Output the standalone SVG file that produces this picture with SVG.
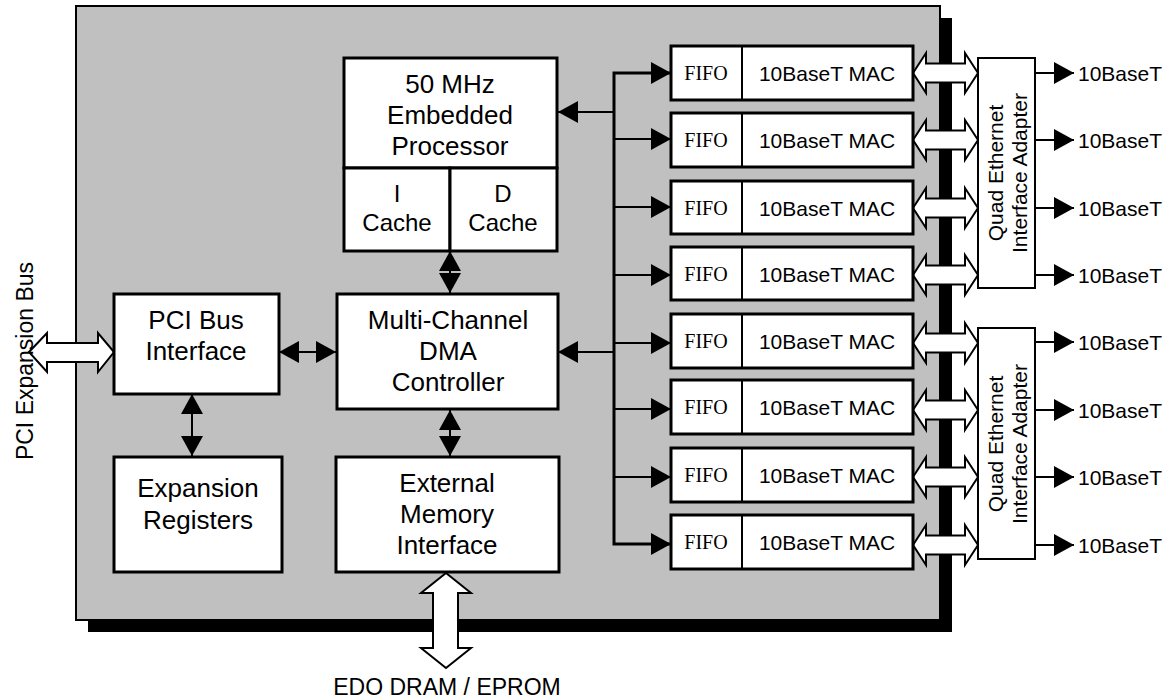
<svg xmlns="http://www.w3.org/2000/svg" width="1172" height="700" viewBox="0 0 1172 700">
<style>
.box{fill:#fff;stroke:#000;stroke-width:3}
.t{font-family:"Liberation Sans",Arial,sans-serif;font-size:26px;fill:#000;text-anchor:middle}
.s{font-family:"Liberation Sans",Arial,sans-serif;font-size:21px;fill:#000;text-anchor:middle}
.sl{font-family:"Liberation Sans",Arial,sans-serif;font-size:21px;fill:#000}
.c{font-family:"Liberation Sans",Arial,sans-serif;font-size:24px;fill:#000;text-anchor:middle}
.l{font-family:"Liberation Sans",Arial,sans-serif;font-size:23px;fill:#000;text-anchor:middle}
.f{font-family:"Liberation Serif","Times New Roman",serif;font-size:20px;fill:#000;text-anchor:middle}
.w{fill:none;stroke:#000;stroke-width:2}
.bus{fill:none;stroke:#000;stroke-width:3}
.hol{fill:#fff;stroke:#000;stroke-width:2;stroke-linejoin:miter}
</style>
<defs>
<marker id="ah" markerUnits="userSpaceOnUse" markerWidth="22" markerHeight="22" refX="20" refY="11" orient="auto-start-reverse">
<path d="M0,0 L20,11 L0,22 z" fill="#000"/>
</marker>
<path id="hdbl" class="hol" d="M0,0 L13,-20 L13,-9.5 L52,-9.5 L52,-20 L65,0 L52,20 L52,9.5 L13,9.5 L13,20 z"/>
</defs>

<g id="chip">
<rect x="88" y="18" width="864" height="614" fill="#000"/>
<rect x="76" y="6" width="864" height="614" fill="#c0c0c0" stroke="#000" stroke-width="2"/>
</g>

<g id="connectors">
<line class="w" x1="450" y1="251" x2="450" y2="293" marker-start="url(#ah)" marker-end="url(#ah)"/>
<line class="w" x1="279" y1="352" x2="336" y2="352" marker-start="url(#ah)" marker-end="url(#ah)"/>
<line class="w" x1="192" y1="394" x2="192" y2="456" marker-start="url(#ah)" marker-end="url(#ah)"/>
<line class="w" x1="450" y1="410" x2="450" y2="456" marker-start="url(#ah)" marker-end="url(#ah)"/>
<polyline class="bus" points="671,73 614,73 614,544 671,544"/>
<line class="w" x1="614" y1="112" x2="558" y2="112" marker-end="url(#ah)"/>
<line class="w" x1="614" y1="352" x2="558" y2="352" marker-end="url(#ah)"/>
<line class="w" x1="614" y1="73" x2="671" y2="73" marker-end="url(#ah)"/>
<line class="w" x1="614" y1="139" x2="671" y2="139" marker-end="url(#ah)"/>
<line class="w" x1="614" y1="207" x2="671" y2="207" marker-end="url(#ah)"/>
<line class="w" x1="614" y1="275" x2="671" y2="275" marker-end="url(#ah)"/>
<line class="w" x1="614" y1="343" x2="671" y2="343" marker-end="url(#ah)"/>
<line class="w" x1="614" y1="409" x2="671" y2="409" marker-end="url(#ah)"/>
<line class="w" x1="614" y1="477" x2="671" y2="477" marker-end="url(#ah)"/>
<line class="w" x1="614" y1="544" x2="671" y2="544" marker-end="url(#ah)"/>
<path class="hol" d="M29,352 L47,333 L47,343 L98,343 L98,333 L114,352 L98,372 L98,362 L47,362 L47,372 z"/>
<path class="hol" d="M446,573 L471,593 L458,593 L458,648 L471,648 L446,668 L421,648 L433,648 L433,593 L421,593 z"/>
<use href="#hdbl" transform="translate(913,73)"/>
<use href="#hdbl" transform="translate(913,140)"/>
<use href="#hdbl" transform="translate(913,208)"/>
<use href="#hdbl" transform="translate(913,275)"/>
<use href="#hdbl" transform="translate(913,343)"/>
<use href="#hdbl" transform="translate(913,410)"/>
<use href="#hdbl" transform="translate(913,477)"/>
<use href="#hdbl" transform="translate(913,545)"/>
<line class="w" x1="1035" y1="73" x2="1074" y2="73" marker-end="url(#ah)"/>
<line class="w" x1="1035" y1="140" x2="1074" y2="140" marker-end="url(#ah)"/>
<line class="w" x1="1035" y1="208" x2="1074" y2="208" marker-end="url(#ah)"/>
<line class="w" x1="1035" y1="275" x2="1074" y2="275" marker-end="url(#ah)"/>
<line class="w" x1="1035" y1="342" x2="1074" y2="342" marker-end="url(#ah)"/>
<line class="w" x1="1035" y1="410" x2="1074" y2="410" marker-end="url(#ah)"/>
<line class="w" x1="1035" y1="477" x2="1074" y2="477" marker-end="url(#ah)"/>
<line class="w" x1="1035" y1="545" x2="1074" y2="545" marker-end="url(#ah)"/>
</g>

<g id="processor">
<rect class="box" x="344" y="58" width="213" height="110"/>
<text class="t" x="450" y="93">50 MHz</text>
<text class="t" x="450" y="124">Embedded</text>
<text class="t" x="450" y="155">Processor</text>
</g>
<g id="icache">
<rect class="box" x="344" y="168" width="106" height="83"/>
<text class="c" x="397" y="202">I</text>
<text class="c" x="397" y="231">Cache</text>
</g>
<g id="dcache">
<rect class="box" x="450" y="168" width="107" height="83"/>
<text class="c" x="503" y="202">D</text>
<text class="c" x="503" y="231">Cache</text>
</g>
<g id="pci">
<rect class="box" x="114" y="294" width="165" height="100"/>
<text class="t" x="196" y="329">PCI Bus</text>
<text class="t" x="196" y="360">Interface</text>
</g>
<g id="dma">
<rect class="box" x="337" y="294" width="221" height="115"/>
<text class="t" x="448" y="329">Multi-Channel</text>
<text class="t" x="448" y="360">DMA</text>
<text class="t" x="448" y="391">Controller</text>
</g>
<g id="expreg">
<rect class="box" x="114" y="457" width="168" height="115"/>
<text class="t" x="198" y="497">Expansion</text>
<text class="t" x="198" y="529">Registers</text>
</g>
<g id="emi">
<rect class="box" x="336" y="457" width="223" height="115"/>
<text class="t" x="447" y="492">External</text>
<text class="t" x="447" y="523">Memory</text>
<text class="t" x="447" y="554">Interface</text>
</g>

<g id="mac1"><rect class="box" x="671" y="46" width="242" height="54"/><line class="w" x1="742" y1="46" x2="742" y2="100" stroke-width="3"/><text class="f" x="706" y="80">FIFO</text><text class="s" x="827" y="81">10BaseT MAC</text></g>
<g id="mac2"><rect class="box" x="671" y="113" width="242" height="54"/><line class="w" x1="742" y1="113" x2="742" y2="167" stroke-width="3"/><text class="f" x="706" y="147">FIFO</text><text class="s" x="827" y="148">10BaseT MAC</text></g>
<g id="mac3"><rect class="box" x="671" y="181" width="242" height="53"/><line class="w" x1="742" y1="181" x2="742" y2="234" stroke-width="3"/><text class="f" x="706" y="215">FIFO</text><text class="s" x="827" y="216">10BaseT MAC</text></g>
<g id="mac4"><rect class="box" x="671" y="247" width="242" height="53"/><line class="w" x1="742" y1="247" x2="742" y2="300" stroke-width="3"/><text class="f" x="706" y="281">FIFO</text><text class="s" x="827" y="282">10BaseT MAC</text></g>
<g id="mac5"><rect class="box" x="671" y="314" width="242" height="54"/><line class="w" x1="742" y1="314" x2="742" y2="368" stroke-width="3"/><text class="f" x="706" y="348">FIFO</text><text class="s" x="827" y="349">10BaseT MAC</text></g>
<g id="mac6"><rect class="box" x="671" y="380" width="242" height="54"/><line class="w" x1="742" y1="380" x2="742" y2="434" stroke-width="3"/><text class="f" x="706" y="414">FIFO</text><text class="s" x="827" y="415">10BaseT MAC</text></g>
<g id="mac7"><rect class="box" x="671" y="448" width="242" height="54"/><line class="w" x1="742" y1="448" x2="742" y2="502" stroke-width="3"/><text class="f" x="706" y="482">FIFO</text><text class="s" x="827" y="483">10BaseT MAC</text></g>
<g id="mac8"><rect class="box" x="671" y="515" width="242" height="54"/><line class="w" x1="742" y1="515" x2="742" y2="569" stroke-width="3"/><text class="f" x="706" y="549">FIFO</text><text class="s" x="827" y="550">10BaseT MAC</text></g>

<g id="qeia1">
<rect x="978" y="58" width="57" height="230" fill="#fff" stroke="#000" stroke-width="2"/>
<text class="s" transform="translate(1003,173) rotate(-90)">Quad Ethernet</text>
<text class="s" transform="translate(1027,173) rotate(-90)">Interface Adapter</text>
</g>
<g id="qeia2">
<rect x="978" y="328" width="57" height="231" fill="#fff" stroke="#000" stroke-width="2"/>
<text class="s" transform="translate(1003,444) rotate(-90)">Quad Ethernet</text>
<text class="s" transform="translate(1027,444) rotate(-90)">Interface Adapter</text>
</g>

<g id="outputs">
<text class="sl" x="1078" y="81">10BaseT</text>
<text class="sl" x="1078" y="148">10BaseT</text>
<text class="sl" x="1078" y="216">10BaseT</text>
<text class="sl" x="1078" y="283">10BaseT</text>
<text class="sl" x="1078" y="350">10BaseT</text>
<text class="sl" x="1078" y="418">10BaseT</text>
<text class="sl" x="1078" y="485">10BaseT</text>
<text class="sl" x="1078" y="553">10BaseT</text>
</g>

<g id="pci-bus-label">
<text class="l" transform="translate(33,361) rotate(-90)">PCI Expansion Bus</text>
</g>
<g id="edo-label">
<text class="l" x="447" y="695">EDO DRAM / EPROM</text>
</g>
</svg>
